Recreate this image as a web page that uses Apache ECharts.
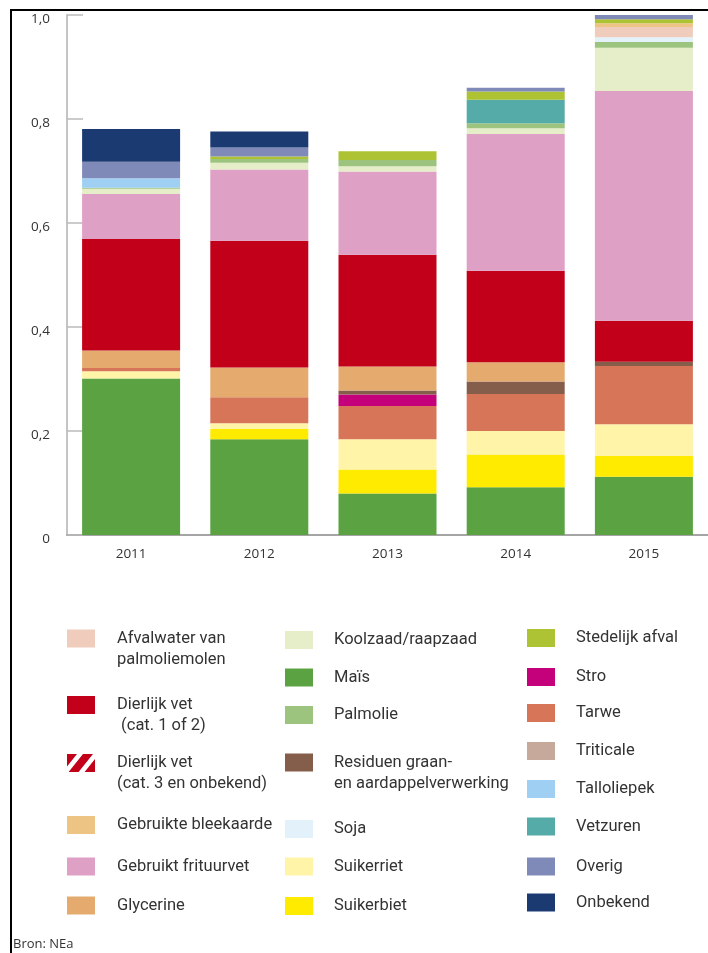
<!DOCTYPE html>
<html lang="nl">
<head>
    <meta charset="UTF-8">
    <title>Biobrandstoffen grondstoffen</title>
    <script src="https://cdn.jsdelivr.net/npm/echarts@6/dist/echarts.min.js"></script>
    <style>
        body { margin: 0; background: #fff; }
        #chart { width: 708px; height: 953px; }
    </style>
</head>
<body>
<div id="chart"></div>
<script type="text/javascript">
    // jaren
    var years = ['2011', '2012', '2013', '2014', '2015'];
    var yTicks = [0, 0.2, 0.4, 0.6, 0.8, 1.0];

    // waarden per grondstof (van onder naar boven gestapeld)
    var mais        = [0.301, 0.184, 0.080, 0.092, 0.112];
    var suikerbiet  = [0,     0.020, 0.046, 0.063, 0.040];
    var suikerriet  = [0.014, 0.011, 0.058, 0.045, 0.061];
    var tarwe       = [0.006, 0.050, 0.064, 0.071, 0.112];
    var stro        = [0,     0,     0.022, 0,     0];
    var residuen    = [0,     0,     0.008, 0.024, 0.008];
    var glycerine   = [0.034, 0.057, 0.046, 0.037, 0];
    var dierlijk12  = [0.214, 0.244, 0.215, 0.176, 0.079];
    var dierlijk3   = [0,     0,     0,     0,     0];
    var frituurvet  = [0.087, 0.137, 0.160, 0.263, 0.442];
    var koolzaad    = [0.010, 0.013, 0.010, 0.011, 0.083];
    var palmolie    = [0.002, 0.007, 0.012, 0.010, 0.011];
    var soja        = [0,     0,     0,     0,     0.009];
    var afvalwater  = [0,     0,     0,     0,     0.020];
    var bleekaarde  = [0,     0,     0,     0,     0.007];
    var triticale   = [0,     0,     0,     0,     0];
    var talloliepek = [0.018, 0,     0,     0,     0];
    var vetzuren    = [0,     0,     0,     0.045, 0];
    var stedelijk   = [0,     0.005, 0.017, 0.016, 0.008];
    var overig      = [0.032, 0.017, 0,     0.007, 0.008];
    var onbekend    = [0.063, 0.031, 0,     0,     0];

    var stack = [
        ['Maïs', mais, '#5aa242'],
        ['Suikerbiet', suikerbiet, '#ffeb00'],
        ['Suikerriet', suikerriet, '#fff4a8'],
        ['Tarwe', tarwe, '#d67557'],
        ['Stro', stro, '#c4007b'],
        ['Residuen graan-\nen aardappelverwerking', residuen, '#855e4b'],
        ['Glycerine', glycerine, '#e5aa6e'],
        ['Dierlijk vet\n (cat. 1 of 2)', dierlijk12, '#c2001a'],
        ['Dierlijk vet\n(cat. 3 en onbekend)', dierlijk3, '#c2001a'],
        ['Gebruikt frituurvet', frituurvet, '#dfa0c6'],
        ['Koolzaad/raapzaad', koolzaad, '#e5edc9'],
        ['Palmolie', palmolie, '#9dc47f'],
        ['Soja', soja, '#e3f1fb'],
        ['Afvalwater van\npalmoliemolen', afvalwater, '#f0ccbc'],
        ['Gebruikte bleekaarde', bleekaarde, '#eec485'],
        ['Triticale', triticale, '#c6a99b'],
        ['Talloliepek', talloliepek, '#9fd0f3'],
        ['Vetzuren', vetzuren, '#54aba7'],
        ['Stedelijk afval', stedelijk, '#adc333'],
        ['Overig', overig, '#808ab8'],
        ['Onbekend', onbekend, '#1c3a72']
    ];

    // legenda: naam, links, midden van het blokje
    var legendPlaces = [
        ['Afvalwater van\npalmoliemolen', 67, 638.5],
        ['Dierlijk vet\n (cat. 1 of 2)', 67, 705],
        ['Dierlijk vet\n(cat. 3 en onbekend)', 67, 763],
        ['Gebruikte bleekaarde', 67, 825],
        ['Gebruikt frituurvet', 67, 866.5],
        ['Glycerine', 67, 905.5],
        ['Koolzaad/raapzaad', 285, 640],
        ['Maïs', 285, 677.5],
        ['Palmolie', 285, 715],
        ['Residuen graan-\nen aardappelverwerking', 285, 762.5],
        ['Soja', 285, 829],
        ['Suikerriet', 285, 866.5],
        ['Suikerbiet', 285, 906],
        ['Stedelijk afval', 527, 638],
        ['Stro', 527, 677],
        ['Tarwe', 527, 713],
        ['Triticale', 527, 751],
        ['Talloliepek', 527, 789],
        ['Vetzuren', 527, 826.5],
        ['Overig', 527, 866.5],
        ['Onbekend', 527, 902.5]
    ];

    var hatch = 'path://M0,0L10,0L0,12.5ZM16,0L26,0L11.6,18L1.6,18ZM28,5L28,18L17.6,18Z';

    var series = [];
    for (var i = 0; i < stack.length; i++) {
        series.push({
            name: stack[i][0],
            type: 'bar',
            stack: 'totaal',
            barWidth: 98,
            data: stack[i][1],
            itemStyle: { color: stack[i][2] }
        });
    }

    var legends = [];
    for (var j = 0; j < legendPlaces.length; j++) {
        var nm = legendPlaces[j][0];
        var twoLines = nm.indexOf('\n') >= 0;
        var left = legendPlaces[j][1];
        var padLeft = left === 67 ? 17 : 16;
        legends.push({
            data: [{ name: nm, icon: nm.indexOf('cat. 3') >= 0 ? hatch : 'rect' }],
            left: left,
            top: legendPlaces[j][2] - (twoLines ? 31.5 : 10.5),
            orient: 'vertical',
            padding: 0,
            itemWidth: 28,
            itemHeight: 18,
            selectedMode: false,
            // lege eerste regel zodat de eerste tekstregel naast het blokje staat
            formatter: twoLines ? function (name) { return '\n' + name; } : '{name}',
            textStyle: {
                fontFamily: 'Roboto',
                fontSize: 16.5,
                color: '#333',
                lineHeight: 21,
                padding: [0, 0, 0, padLeft]
            }
        });
    }

    var myChart = echarts.init(document.getElementById('chart'));
    myChart.setOption({
        animation: false,
        textStyle: { fontFamily: 'Open Sans' },
        grid: { left: 67, top: 15, width: 652, height: 520 },
        legend: legends,
        xAxis: {
            type: 'category',
            data: years,
            axisLine: { lineStyle: { color: '#888', width: 1.5 } },
            axisTick: { inside: true, length: 11, lineStyle: { color: '#aaa', width: 1.5 } },
            axisLabel: { color: '#333', fontSize: 13.5, margin: 12 }
        },
        yAxis: {
            type: 'value',
            min: yTicks[0],
            max: yTicks[yTicks.length - 1],
            interval: 0.2,
            splitLine: { show: false },
            axisLine: { show: true, lineStyle: { color: '#c4c4c4', width: 2 } },
            axisTick: { show: true, inside: true, length: 16, lineStyle: { color: '#bbb', width: 1.5 } },
            axisLabel: {
                color: '#333',
                fontSize: 13.5,
                margin: 17,
                verticalAlign: 'top',
                lineHeight: 8,
                formatter: function (v) {
                    return v === 0 ? '0' : v.toFixed(1).replace('.', ',');
                }
            }
        },
        graphic: [
            {
                type: 'polyline',
                shape: { points: [[11, 953], [11, 10], [708, 10]] },
                style: { stroke: '#000', lineWidth: 2, fill: null }
            },
            {
                type: 'text',
                left: 13,
                top: 938,
                style: { text: 'Bron: NEa', fontSize: 13, fill: '#333', fontFamily: 'Open Sans' }
            }
        ],
        series: series
    });
</script>
</body>
</html>
